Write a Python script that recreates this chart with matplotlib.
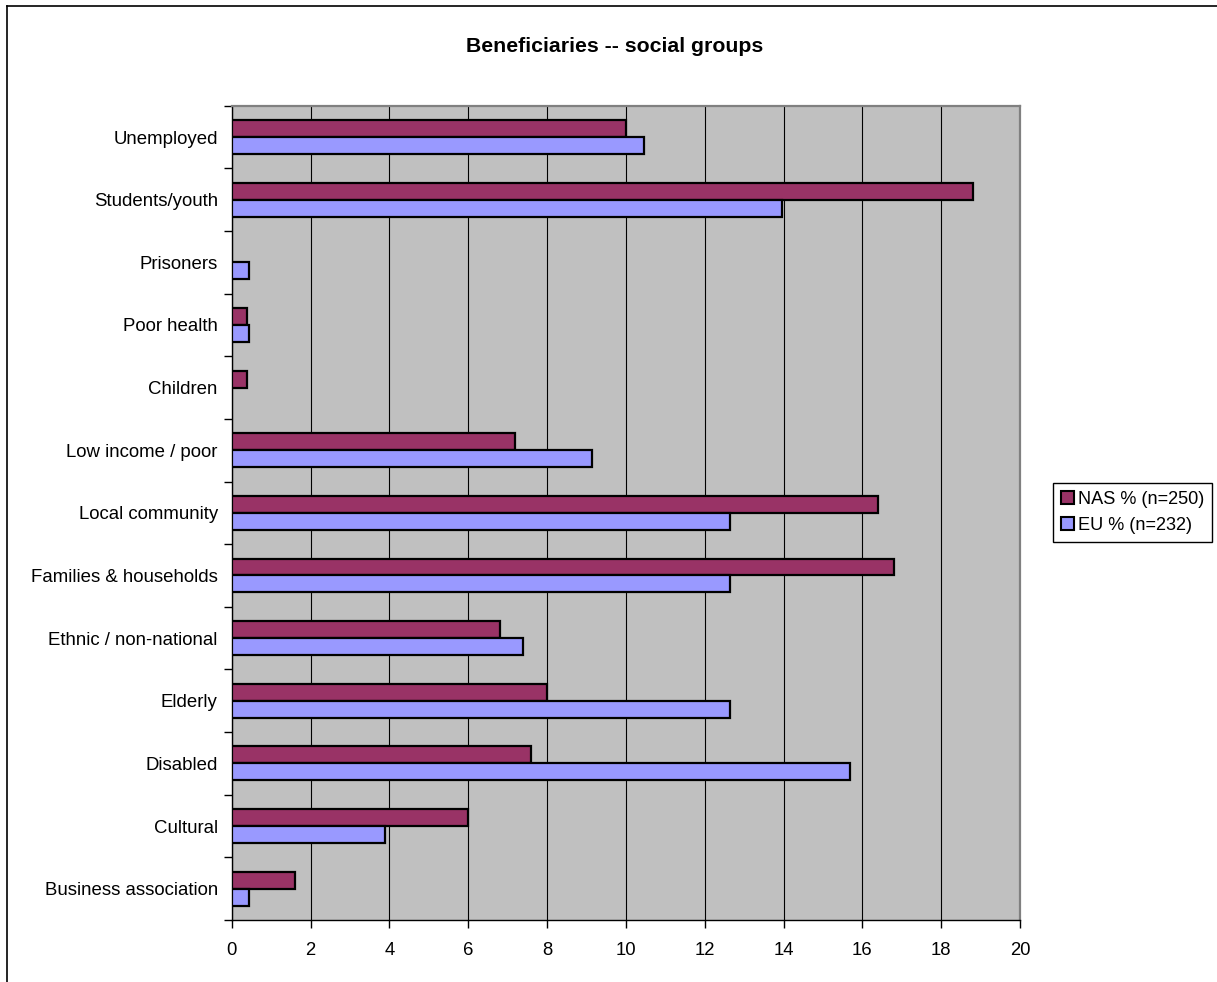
import matplotlib
matplotlib.use("Agg")
import matplotlib.pyplot as plt
import numpy as np
from matplotlib.patches import Patch
from matplotlib.lines import Line2D

plt.rcParams['font.family'] = ['Liberation Sans', 'DejaVu Sans']

# Categories listed bottom to top
categories = [
    "Business association", "Cultural", "Disabled", "Elderly",
    "Ethnic / non-national", "Families & households", "Local community",
    "Low income / poor", "Children", "Poor health", "Prisoners",
    "Students/youth", "Unemployed",
]
nas_values = [1.6, 6.0, 7.6, 8.0, 6.8, 16.8, 16.4, 7.2, 0.4, 0.4, 0.0, 18.8, 10.0]
eu_values = [0.43, 3.9, 15.69, 12.65, 7.4, 12.65, 12.65, 9.13, 0.0, 0.43, 0.43, 13.95, 10.47]
series_labels = ["NAS % (n=250)", "EU % (n=232)"]
x_ticks = [0, 2, 4, 6, 8, 10, 12, 14, 16, 18, 20]
title = "Beneficiaries -- social groups"

nas_color = "#993366"
eu_color = "#9999FF"

W, H = 1217, 982
fig = plt.figure(figsize=(W / 100, H / 100), dpi=100)

# plot area in pixel coordinates
left, right, top, bottom = 231.7, 1020, 105.7, 920
ax = fig.add_axes([left / W, 1 - bottom / H, (right - left) / W, (bottom - top) / H])
ax.set_facecolor("#C0C0C0")

y = np.arange(len(categories))
bh = 0.27
lw_nas = [1.6 if v > 0 else 0 for v in nas_values]
lw_eu = [1.6 if v > 0 else 0 for v in eu_values]
ax.barh(y + bh / 2, nas_values, height=bh, color=nas_color, edgecolor="black",
        linewidth=lw_nas, zorder=3)
ax.barh(y - bh / 2, eu_values, height=bh, color=eu_color, edgecolor="black",
        linewidth=lw_eu, zorder=3)

ax.set_xlim(0, 20)
ax.set_ylim(-0.5, len(categories) - 0.5)
ax.set_xticks(x_ticks)
ax.set_xticklabels([str(t) for t in x_ticks], fontsize=13.3)
ax.xaxis.grid(True, color="black", linewidth=0.8, zorder=1)
ax.set_axisbelow(True)

# category boundary ticks, labels at centres
ax.set_yticks(np.arange(-0.5, len(categories), 1.0))
ax.set_yticklabels([])
ax.set_yticks(y, minor=True)
ax.set_yticklabels(categories, minor=True, fontsize=13.4)
ax.tick_params(axis="y", which="major", direction="out", length=6, width=1, color="black")
ax.tick_params(axis="y", which="minor", length=0, pad=10)
ax.tick_params(axis="x", direction="out", length=6, width=1, pad=10)

for s in ("top", "right"):
    ax.spines[s].set_color("#808080")
    ax.spines[s].set_linewidth(1.6)
for s in ("left", "bottom"):
    ax.spines[s].set_color("black")
    ax.spines[s].set_linewidth(1.0)

fig.text(615 / W, 1 - 47 / H, title, ha="center", va="center",
         fontsize=15.3, fontweight="bold")

handles = [Patch(facecolor=nas_color, edgecolor="black", linewidth=1.5),
           Patch(facecolor=eu_color, edgecolor="black", linewidth=1.5)]
leg = fig.legend(handles, series_labels, loc="center left",
                 bbox_to_anchor=(1053 / W, 1 - 512.5 / H), fontsize=13.1,
                 frameon=True, fancybox=False, framealpha=1, edgecolor="black",
                 handlelength=0.7, handleheight=0.7, handletextpad=0.2,
                 borderpad=0.45, labelspacing=0.5, borderaxespad=0)
leg.get_frame().set_linewidth(1.0)

# outer chart frame (left and top edges visible)
fig.add_artist(Line2D([7 / W, 7 / W], [0, 1 - 6 / H], transform=fig.transFigure,
                      color="black", linewidth=1.2))
fig.add_artist(Line2D([7 / W, 1], [1 - 6 / H, 1 - 6 / H], transform=fig.transFigure,
                      color="black", linewidth=1.2))

fig.savefig("out.png", dpi=100)
